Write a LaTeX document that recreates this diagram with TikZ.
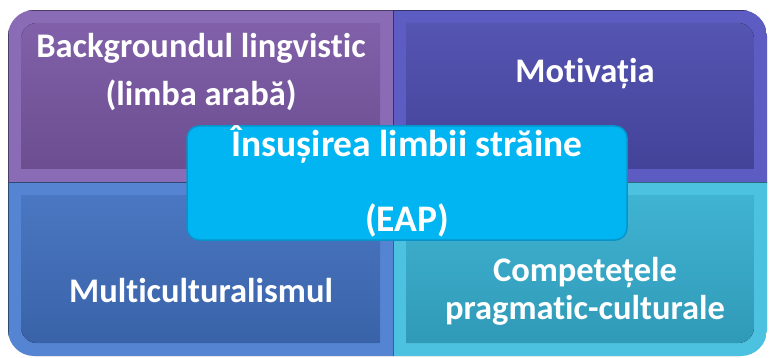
\documentclass[tikz,border=0pt]{standalone}
\usepackage{fontspec}
\setmainfont{Carlito}[Ligatures=NoCommon]
\usetikzlibrary{positioning}
\definecolor{tlMain}{HTML}{7A58A4}
\definecolor{tlEdge}{HTML}{8A6CB6}
\definecolor{trMain}{HTML}{4C4CAE}
\definecolor{trEdge}{HTML}{5C5CC2}
\definecolor{blMain}{HTML}{4170BF}
\definecolor{blEdge}{HTML}{5585D2}
\definecolor{brMain}{HTML}{36AFD0}
\definecolor{brEdge}{HTML}{4CC2E0}
\definecolor{coreFill}{HTML}{00B5F1}
\definecolor{coreLine}{HTML}{0894CB}
\tikzset{
  frame/.style={fill=#1, draw=#1!55!black, line width=0.8pt},
  inner/.style={top color=#1!95!white, bottom color=#1!88!black},
  lbl/.style={text=white, font=\bfseries\fontsize{34.5}{48}\selectfont, align=center},
  core/.style={rectangle, rounded corners=12pt, fill=coreFill, draw=coreLine,
    line width=1.5pt, minimum width=440pt, minimum height=114pt}
}
\begin{document}
\begin{tikzpicture}[x=1pt,y=-1pt]
\useasboundingbox (0,0) rectangle (770,358);
% quadrants
\begin{scope}
  \clip[rounded corners=26pt] (8,10) rectangle (767,356);
  \draw[frame=tlEdge] (8,10) rectangle (393,182);
  \draw[frame=trEdge] (393,10) rectangle (767,182);
  \draw[frame=blEdge] (8,182) rectangle (393,356);
  \draw[frame=brEdge] (393,182) rectangle (767,356);
  \begin{scope}
    \clip[rounded corners=16pt] (21,23) rectangle (754,343);
    \fill[inner=tlMain] (21,23) rectangle (380,169);
    \fill[inner=trMain] (406,23) rectangle (754,169);
    \fill[inner=blMain] (21,195) rectangle (380,343);
    \fill[inner=brMain] (406,195) rectangle (754,343);
  \end{scope}
\end{scope}
% labels
\node[lbl] (bg) at (201,72) {Backgroundul lingvistic\\(limba arabă)};
\node[lbl] (mot) at (585,74) {Motivația};
\node[lbl] (multi) at (201,291) {Multiculturalismul};
\node[lbl, font=\bfseries\fontsize{34.5}{38}\selectfont] (comp) at (585,291) {Competețele\\pragmatic-culturale};
% centre
\node[core] (eap) at (407,183) {};
\node[lbl, font=\bfseries\fontsize{37.5}{75}\selectfont] (eaptxt) at (407,181) {Însușirea limbii străine\\(EAP)};
\end{tikzpicture}
\end{document}
